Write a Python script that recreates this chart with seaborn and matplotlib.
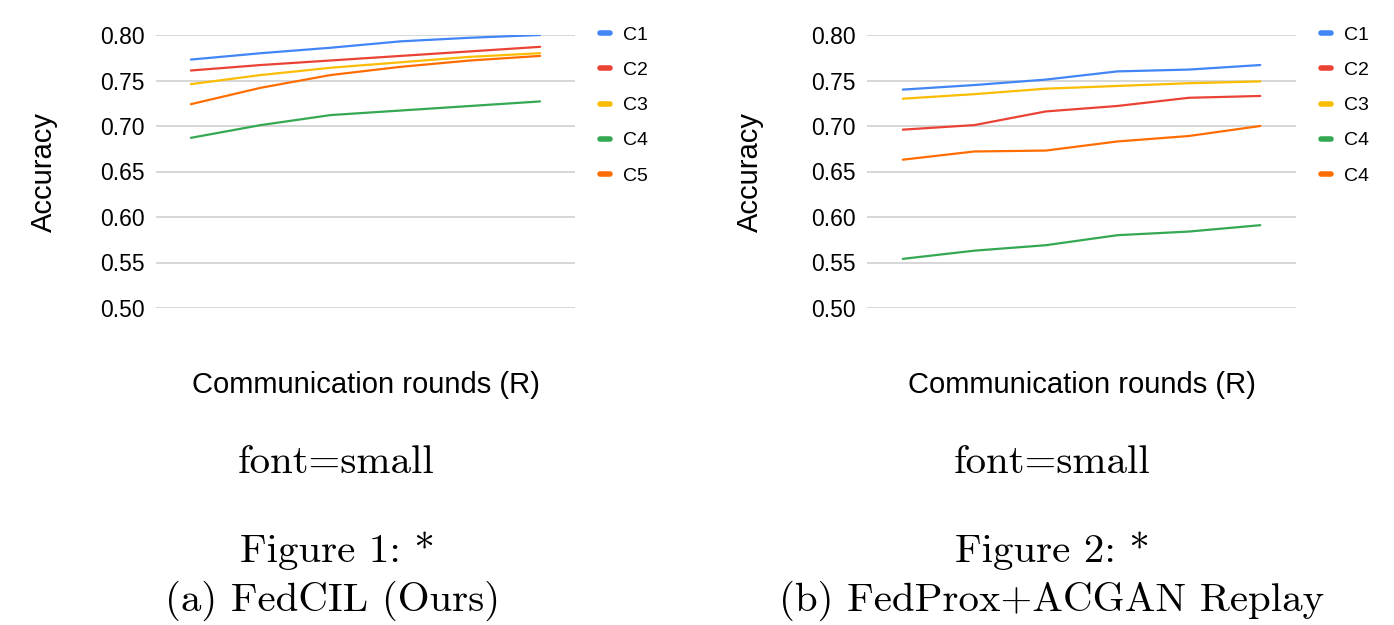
import pandas as pd
import numpy as np
import matplotlib
matplotlib.use("Agg")
import matplotlib.pyplot as plt
import seaborn as sns

# values (6 communication rounds)
rounds = [1, 2, 3, 4, 5, 6]
series = ["C1", "C2", "C3", "C4", "C5"]

fedcil_c1 = [0.773, 0.780, 0.786, 0.793, 0.797, 0.800]
fedcil_c2 = [0.761, 0.767, 0.772, 0.777, 0.782, 0.787]
fedcil_c3 = [0.746, 0.756, 0.764, 0.770, 0.776, 0.780]
fedcil_c4 = [0.687, 0.701, 0.712, 0.717, 0.722, 0.727]
fedcil_c5 = [0.724, 0.742, 0.756, 0.765, 0.772, 0.777]

prox_c1 = [0.740, 0.745, 0.751, 0.760, 0.762, 0.767]
prox_c2 = [0.696, 0.701, 0.716, 0.722, 0.731, 0.733]
prox_c3 = [0.730, 0.735, 0.741, 0.744, 0.747, 0.749]
prox_c4 = [0.554, 0.563, 0.569, 0.580, 0.584, 0.591]
prox_c5 = [0.663, 0.672, 0.673, 0.683, 0.689, 0.700]

left_labels = ["C1", "C2", "C3", "C4", "C5"]
right_labels = ["C1", "C2", "C3", "C4", "C4"]  # as printed in the original

yticks = [0.50, 0.55, 0.60, 0.65, 0.70, 0.75, 0.80]

palette = {"C1": "#4285F4", "C2": "#EA4335", "C3": "#FBBC04",
           "C4": "#34A853", "C5": "#FF6D01"}


def to_long(cols):
    frames = []
    for name, vals in zip(series, cols):
        frames.append(pd.DataFrame({"round": rounds, "acc": vals, "series": name}))
    return pd.concat(frames, ignore_index=True)


df_left = to_long([fedcil_c1, fedcil_c2, fedcil_c3, fedcil_c4, fedcil_c5])
df_right = to_long([prox_c1, prox_c2, prox_c3, prox_c4, prox_c5])

sns.set_style("white")
plt.rcParams["font.family"] = ["Liberation Sans", "DejaVu Sans"]
plt.rcParams["text.color"] = "black"
plt.rcParams["axes.labelcolor"] = "black"

fig = plt.figure(figsize=(13.94, 6.25), dpi=100)
ax1 = fig.add_axes([0.1119, 0.5072, 0.3006, 0.4368])
ax2 = fig.add_axes([0.6220, 0.5072, 0.3077, 0.4368])

panels = [(ax1, df_left, left_labels, 0.4247, -0.267),
          (ax2, df_right, right_labels, 0.9420, -0.273)]

for ax, df, labels, leg_x, ylab_x in panels:
    sns.lineplot(data=df, x="round", y="acc", hue="series", palette=palette,
                 linewidth=1.6, ax=ax)
    ax.set_ylim(0.50, 0.80)
    ax.set_xlim(rounds[0] - 0.5, rounds[-1] + 0.5)
    ax.set_yticks(yticks)
    ax.set_yticklabels([f"{v:.2f}" for v in yticks])
    ax.set_xticks([])
    ax.grid(axis="y", color="#cccccc", linewidth=1.1)
    ax.set_axisbelow(True)
    for s in ax.spines.values():
        s.set_visible(False)
    ax.tick_params(axis="y", length=0, pad=8, labelsize=16.5, labelcolor="black")

    ax.set_xlabel("Communication rounds (R)", fontsize=21)
    ax.xaxis.label.set_va("center")
    ax.xaxis.set_label_coords(0.5, -0.282)
    ax.set_ylabel("Accuracy", fontsize=21)
    ax.yaxis.label.set_va("center")
    ax.yaxis.set_label_coords(ylab_x, 0.5)

    handles, _ = ax.get_legend_handles_labels()
    leg = ax.legend(handles, labels, loc="upper left",
                    bbox_to_anchor=(leg_x, 0.970), bbox_transform=fig.transFigure,
                    frameon=False, fontsize=14, handlelength=0.5,
                    handletextpad=0.7, labelspacing=0.9, borderaxespad=0)
    for line in leg.get_lines():
        line.set_linewidth(4)

# LaTeX style captions under each chart
cap = dict(family="cmr10", fontsize=29.5, ha="center", va="center")
fig.text(336 / 1394, 1 - 463 / 625, "font=small", **cap)
fig.text(337 / 1394, 1 - 551 / 625, "Figure 1: *", **cap)
fig.text(333 / 1394, 1 - 601 / 625, "(a) FedCIL (Ours)", **cap)
fig.text(1052 / 1394, 1 - 463 / 625, "font=small", **cap)
fig.text(1052 / 1394, 1 - 551 / 625, "Figure 2: *", **cap)
fig.text(1052 / 1394, 1 - 601 / 625, "(b) FedProx+ACGAN Replay", **cap)

fig.savefig("out.png", dpi=100)
